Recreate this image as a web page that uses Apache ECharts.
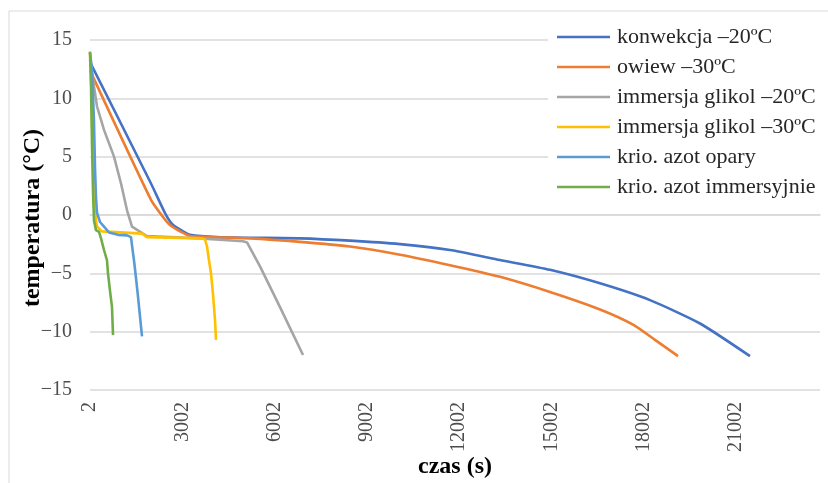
<!DOCTYPE html>
<html>
<head>
<meta charset="utf-8">
<script src="https://cdn.jsdelivr.net/npm/echarts@6/dist/echarts.min.js"></script>
<style>
  html, body { margin: 0; padding: 0; background: #fff; }
  #chart { width: 828px; height: 483px; }
</style>
</head>
<body>
<div id="chart"></div>
<script>
// Time of the first sample (s); the x axis counts from it.
const T0 = 2;

const seriesNames = [
  'konwekcja –20ºC',
  'owiew –30ºC',
  'immersja glikol –20ºC',
  'immersja glikol –30ºC',
  'krio. azot opary',
  'krio. azot immersyjnie'
];

// konwekcja –20ºC
const konwekcjaTime = [2, 1985, 2440, 2700, 3025, 3252, 4130, 5202, 6827, 8452, 10077, 11702, 13327, 14952, 16577, 18202, 19827, 21452];
const konwekcjaTemp = [13.1, 2.7, 0.17, -0.86, -1.4, -1.7, -1.9, -1.95, -2.0, -2.2, -2.5, -3.0, -3.86, -4.7, -5.86, -7.3, -9.3, -12.1];

// owiew –30ºC
const owiewTime = [2, 1985, 2375, 2602, 2927, 3252, 5202, 6827, 8452, 10077, 11702, 13327, 14952, 16577, 17650, 18365, 19112];
const owiewTemp = [12.4, 1.3, -0.17, -0.86, -1.4, -1.8, -2.0, -2.3, -2.7, -3.4, -4.3, -5.3, -6.6, -8.1, -9.4, -10.7, -12.1];

// immersja glikol –20ºC
const glikol20Time = [2, 230, 457, 782, 1010, 1205, 1367, 1725, 1855, 3577, 4975, 5105, 5527, 6177, 6925];
const glikol20Temp = [13.3, 9.3, 7.3, 5.0, 2.7, 0.4, -1.0, -1.6, -1.8, -2.0, -2.25, -2.35, -4.4, -7.9, -12.0];

// immersja glikol –30ºC
const glikol30Time = [2, 35, 100, 132, 197, 230, 392, 717, 1692, 1855, 3610, 3740, 3805, 3870, 3935, 4000, 4065, 4097];
const glikol30Temp = [14.0, 12.0, 5.0, 2.0, -0.5, -1.0, -1.4, -1.45, -1.6, -1.9, -2.0, -2.1, -2.7, -3.9, -5.0, -6.8, -9.0, -10.7];

// krio. azot opary
const oparyTime = [2, 67, 132, 165, 197, 230, 327, 457, 620, 912, 1205, 1335, 1367, 1432, 1497, 1562, 1627, 1692];
const oparyTemp = [13.9, 12.5, 8.0, 4.0, 1.5, 0.2, -0.6, -1.0, -1.5, -1.7, -1.75, -1.9, -2.6, -3.9, -5.4, -7.0, -8.7, -10.4];

// krio. azot immersyjnie
const immersyjnieTime = [2, 35, 67, 100, 132, 197, 295, 360, 457, 555, 587, 652, 717, 750];
const immersyjnieTemp = [14.0, 11.0, 6.0, 2.0, -0.5, -1.3, -1.45, -2.0, -3.0, -3.9, -5.0, -6.5, -7.9, -10.3];

const seriesColors = ['#4472C4', '#ED7D31', '#A5A5A5', '#FFC000', '#5B9BD5', '#70AD47'];

const seriesData = [
  [konwekcjaTime, konwekcjaTemp],
  [owiewTime, owiewTemp],
  [glikol20Time, glikol20Temp],
  [glikol30Time, glikol30Temp],
  [oparyTime, oparyTemp],
  [immersyjnieTime, immersyjnieTemp]
];

// The two long air-cooling curves are drawn smoothed; the rest stay as polylines.
const smoothSeries = [0.2, 0.2, false, false, false, false];

const SERIF = '"Liberation Serif", "Times New Roman", serif';

const chart = echarts.init(document.getElementById('chart'), null, { renderer: 'canvas' });

chart.setOption({
  animation: false,
  backgroundColor: '#fff',
  grid: { left: 90, right: 8, top: 40, bottom: 93, containLabel: false },
  legend: {
    orient: 'vertical',
    left: 548,
    top: 20,
    padding: [6, 10, 8, 9],
    backgroundColor: '#fff',
    itemWidth: 53,
    itemHeight: 2.5,
    itemGap: 8,
    icon: 'rect',
    textStyle: { fontFamily: SERIF, fontSize: 22, color: '#262626', lineHeight: 22, padding: [0, 0, 0, 2] },
    data: seriesNames
  },
  xAxis: {
    type: 'value',
    min: 0,
    max: 23725,
    interval: 3000,
    axisLine: { show: true, lineStyle: { color: '#d9d9d9', width: 1.5 } },
    axisTick: { show: false },
    splitLine: { show: false },
    axisLabel: {
      rotate: 90,
      margin: 12,
      showMaxLabel: false,
      fontFamily: SERIF,
      fontSize: 20,
      color: '#4d4d4d',
      formatter: v => String(v + T0)
    }
  },
  yAxis: {
    type: 'value',
    min: -15,
    max: 15,
    interval: 5,
    axisLine: { show: false },
    axisTick: { show: false },
    splitLine: { lineStyle: { color: '#d9d9d9', width: 1.5 } },
    axisLabel: {
      margin: 18,
      fontFamily: SERIF,
      fontSize: 20,
      color: '#4d4d4d',
      formatter: v => String(v).replace('-', '−')
    }
  },
  graphic: [
    { type: 'line', shape: { x1: 9, y1: 11, x2: 828, y2: 11 }, style: { stroke: '#d9d9d9', lineWidth: 1 }, silent: true },
    { type: 'line', shape: { x1: 9, y1: 11, x2: 9, y2: 483 }, style: { stroke: '#d9d9d9', lineWidth: 1 }, silent: true },
    {
      type: 'text', x: 33, y: 218, rotation: Math.PI / 2,
      style: { text: 'temperatura (°C)', font: 'bold 24px ' + SERIF, fill: '#000', align: 'center', verticalAlign: 'middle' }
    },
    {
      type: 'text', x: 455, y: 467,
      style: { text: 'czas (s)', font: 'bold 24px ' + SERIF, fill: '#000', align: 'center', verticalAlign: 'middle' }
    }
  ],
  series: seriesData.map((pair, i) => ({
    name: seriesNames[i],
    type: 'line',
    showSymbol: false,
    symbol: 'none',
    smooth: smoothSeries[i],
    color: seriesColors[i],
    lineStyle: { color: seriesColors[i], width: 2.6 },
    data: pair[0].map((t, k) => [t - T0, pair[1][k]])
  }))
});
</script>
</body>
</html>
